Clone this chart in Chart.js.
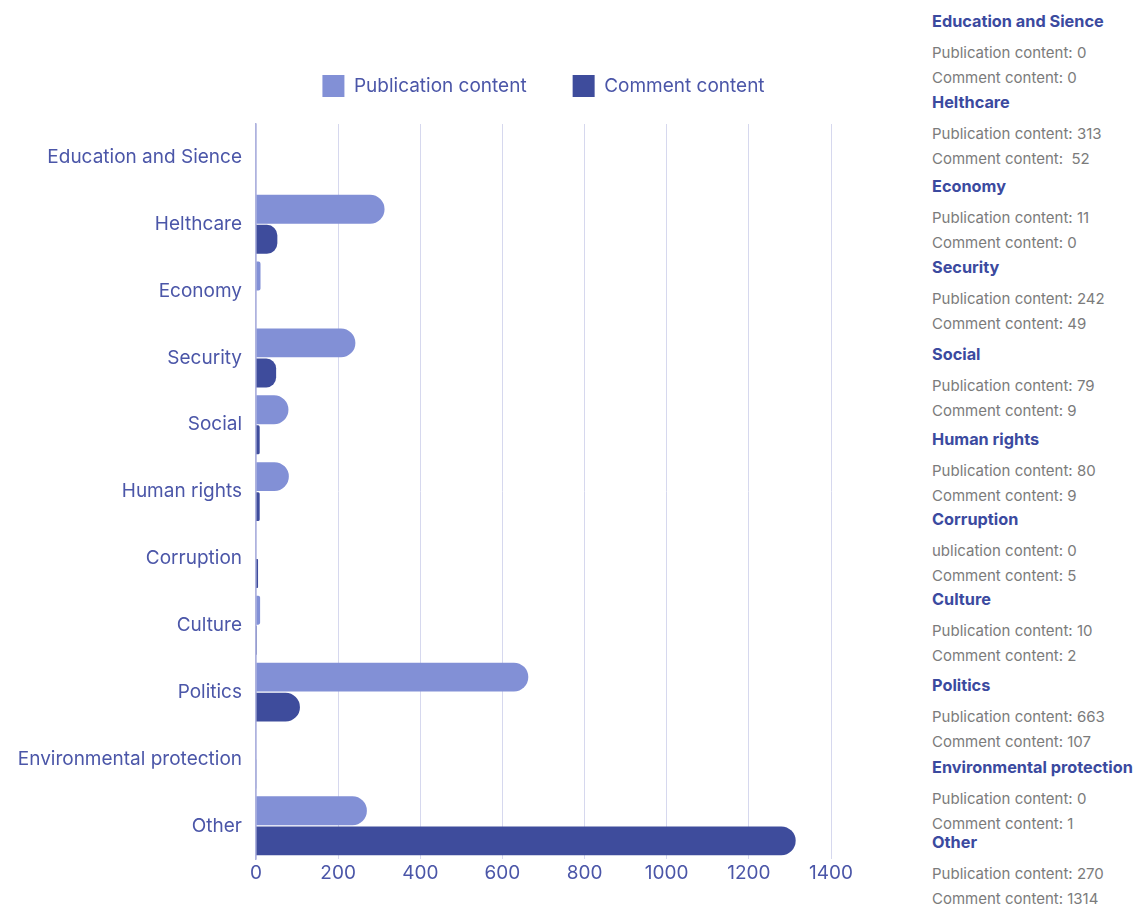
<!DOCTYPE html>
<html>
<head>
<meta charset="utf-8">
<script src="https://cdn.jsdelivr.net/npm/chart.js@4.4.1/dist/chart.umd.min.js"></script>
<style>
  body { margin: 0; background: #fff; width: 1136px; height: 904px; overflow: hidden; position: relative; }
  #wrap { position: absolute; left: 0; top: 0; width: 900px; height: 904px; }
  #notes { position: absolute; left: 932px; top: 0; width: 204px; height: 904px; font-family: Inter, "Open Sans", sans-serif; }
  #notes .t { position: absolute; left: 0; font-size: 16.3px; font-weight: 700; color: #3b4a9f; white-space: nowrap; }
  #notes .l { position: absolute; left: 0; font-size: 15px; color: #7b7b7b; white-space: pre; }
</style>
</head>
<body>
<div id="wrap"><canvas id="chartTemas"></canvas></div>
<div id="notes"></div>
<script>
// categories and values
const categorias = ['Education and Sience', 'Helthcare', 'Economy', 'Security', 'Social', 'Human rights',
    'Corruption', 'Culture', 'Politics', 'Environmental protection', 'Other'];
const publicaciones = [0, 313, 11, 242, 79, 80, 0, 10, 663, 0, 270];
const comentarios = [0, 52, 0, 49, 9, 9, 5, 2, 107, 1, 1314];
const xTicks = [0, 200, 400, 600, 800, 1000, 1200, 1400];

// side notes (vertical centre of each heading, as in the picture)
const notasY = [22, 103, 187, 268, 355, 440, 520, 600, 686, 768, 843];

const colores = { pub: '#8290d6', com: '#3e4c9c', texto: '#4b56a8', grid: '#d6d8ee', eje: '#aeb2de' };
const fuente = "Inter, 'Open Sans', sans-serif";

// ── side notes ──
const notas = document.getElementById('notes');
categorias.forEach((cat, i) => {
    const y = notasY[i];
    const pubPrefix = cat === 'Corruption' ? 'ublication content: ' : 'Publication content: ';
    const comPrefix = cat === 'Helthcare' ? 'Comment content:  ' : 'Comment content: ';
    notas.insertAdjacentHTML('beforeend',
        `<div class="t" style="top:${y - 11}px">${cat}</div>` +
        `<div class="l" style="top:${y + 21}px">${pubPrefix}${publicaciones[i]}</div>` +
        `<div class="l" style="top:${y + 46}px">${comPrefix}${comentarios[i]}</div>`);
});

// ── chart ──
const legendGap = {
    id: 'legendGap',
    beforeInit(chart) {
        const fit = chart.legend.fit;
        chart.legend.fit = function () {
            fit.bind(chart.legend)();
            this.height += 17;
        };
    }
};

new Chart(document.getElementById('chartTemas'), {
    type: 'bar',
    data: {
        labels: categorias,
        datasets: [
            {
                label: 'Publication content',
                data: publicaciones,
                backgroundColor: colores.pub,
                borderRadius: 15,
                borderSkipped: 'start',
                categoryPercentage: 0.9,
                barPercentage: 0.96,
            },
            {
                label: 'Comment content',
                data: comentarios,
                backgroundColor: colores.com,
                borderRadius: 15,
                borderSkipped: 'start',
                categoryPercentage: 0.9,
                barPercentage: 0.96,
            }
        ]
    },
    plugins: [legendGap],
    options: {
        indexAxis: 'y',
        responsive: true,
        maintainAspectRatio: false,
        animation: false,
        layout: { padding: { top: 29, right: 69, bottom: 16, left: 0 } },
        plugins: {
            legend: {
                position: 'top',
                fullSize: false,
                labels: {
                    color: colores.texto,
                    boxWidth: 22,
                    boxHeight: 22,
                    padding: 46,
                    font: { family: fuente, size: 19 }
                }
            },
            tooltip: { enabled: false }
        },
        scales: {
            x: {
                min: 0,
                max: 1400,
                afterBuildTicks(scale) { scale.ticks = xTicks.map(v => ({ value: v })); },
                ticks: {
                    color: colores.texto, padding: 3, font: { family: fuente, size: 19 },
                    callback: v => String(v)
                },
                grid: { color: colores.grid, drawTicks: false },
                border: { display: false }
            },
            y: {
                afterFit(scale) { scale.width = 256; },
                ticks: { color: colores.texto, padding: 14, font: { family: fuente, size: 19 } },
                grid: { display: false, drawTicks: false },
                border: { display: true, color: colores.eje, width: 1.5 }
            }
        }
    }
});
</script>
</body>
</html>
